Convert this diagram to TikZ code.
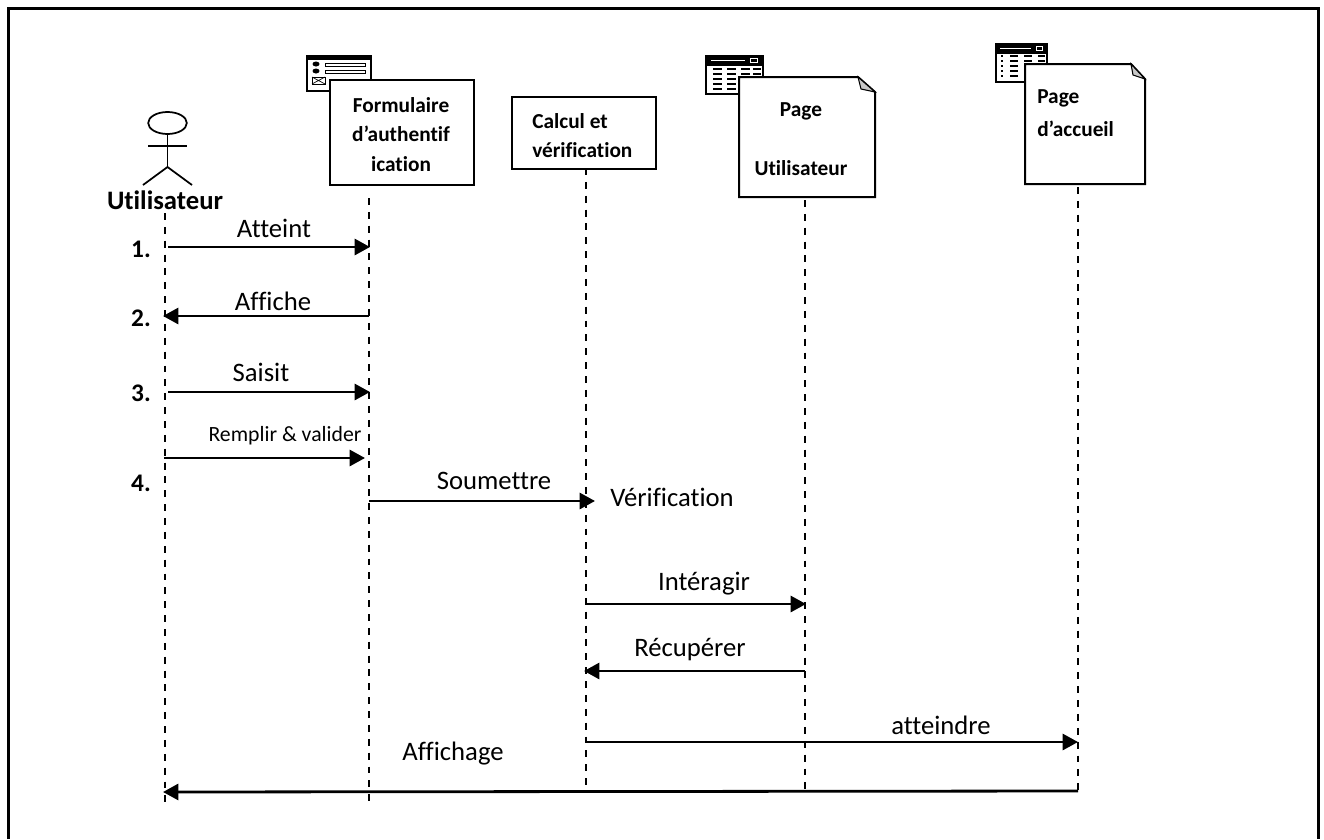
\documentclass[tikz,border=0pt]{standalone}
\usepackage{fontspec}
\setmainfont[Ligatures=NoCommon]{Carlito}
\usetikzlibrary{arrows.meta,shapes.geometric}
\tikzset{
  life/.style={draw=black,line width=1.4pt,dash pattern=on 5.2pt off 5.2pt},
  msg/.style={draw=black,line width=2.1pt,-{Triangle[length=11.5pt,width=12pt]}},
  lbl/.style={font=\fontsize{20}{24}\selectfont,inner sep=0pt,anchor=center},
  bld/.style={font=\bfseries\fontsize{16}{19}\selectfont,inner sep=0pt,anchor=center,align=center},
  num/.style={font=\bfseries\fontsize{19}{22}\selectfont,inner sep=0pt,anchor=center},
  box/.style={draw=black,line width=1.5pt,fill=white},
  lin/.style={draw=black,line width=1.3pt}
}
\begin{document}
\begin{tikzpicture}[x=0.75pt,y=-0.75pt]
\useasboundingbox (0,0) rectangle (1324,839);
\fill[white] (0,0) rectangle (1324,839);
\draw[black,line width=2.2pt] (8.5,839)--(8.5,8.5)--(1318.5,8.5)--(1318.5,839);

% lifeline ends
\coordinate (a0) at (165,213); \coordinate (a1) at (165,805);
\coordinate (f0) at (369,198); \coordinate (f1) at (369,805);
\coordinate (c0) at (586,168); \coordinate (c1) at (586,792);
\coordinate (u0) at (805,200); \coordinate (u1) at (805,792);
\coordinate (h0) at (1078,187); \coordinate (h1) at (1078,792);
\draw[life] (a0)--(a1);
\draw[life] (f0)--(f1);
\draw[life] (c0)--(c1);
\draw[life] (u0)--(u1);
\draw[life] (h0)--(h1);

% actor
\node[draw=black,line width=1.3pt,ellipse,minimum width=29pt,minimum height=16.5pt,inner sep=0pt] (head) at (167.5,123) {};
\coordinate (hip) at (167.5,167);
\coordinate (armL) at (148,146); \coordinate (armR) at (187,146);
\coordinate (legL) at (143,185); \coordinate (legR) at (192,185);
\draw[lin] (head.south)--(hip);
\draw[lin] (armL)--(armR);
\draw[lin] (legL)--(hip)--(legR);
\node[font=\bfseries\fontsize{20}{22}\selectfont,inner sep=0pt] (actor) at (165,200) {Utilisateur};

% form icon
\begin{scope}
\draw[box,line width=1.2pt] (307,56) rectangle (371,91);
\fill[black] (307,55) rectangle (371,60);
\fill[black] (316,64) ellipse (3.5 and 2.5);
\fill[black] (316,71) ellipse (3.5 and 2.5);
\draw[black,line width=.7pt] (325,63) rectangle (365,66);
\draw[black,line width=.7pt] (325,70) rectangle (365,73);
\draw[black,line width=.7pt] (312,77) rectangle (325,84);
\draw[black,line width=.5pt] (312,77)--(325,84) (312,84)--(325,77);
\end{scope}
\node[box,minimum width=108pt,minimum height=79pt,inner sep=0pt,anchor=north west] (form) at (329,79) {};
\node[bld] (formt1) at (401,105) {Formulaire};
\node[bld] (formt2) at (401,134) {d’authentif};
\node[bld] (formt3) at (401,164) {ication};

% calc
\node[box,minimum width=108pt,minimum height=54pt,anchor=north west] (calc) at (511,96) {};
\node[bld,anchor=west] (calct1) at (532,121) {Calcul et};
\node[bld,anchor=west] (calct2) at (532,150) {vérification};

% user page icon
\draw[box,line width=1.2pt] (706,56) rectangle (763,94);
\fill[black] (706,55) rectangle (763,66);
\draw[white,line width=.7pt] (711,60)--(745,60);
\draw[white,line width=.6pt] (750,58.5) rectangle (757,62);
\foreach \yy in {69,74,79,84,89}{
  \draw[black,line width=.9pt] (713,\yy)--(722,\yy) (727,\yy)--(736,\yy) (741,\yy)--(750,\yy) (753,\yy)--(761,\yy);
}
\draw[box,line join=miter] (739,77)--(858,77)--(875,92)--(875,197)--(739,197)--cycle;
\draw[black,line width=.8pt,fill=black!22] (858,77)--(875,92)--(861,89)--cycle;
\node[bld] (ut1) at (801,111) {Page};
\node[bld] (ut2) at (801,168) {Utilisateur};

% home page icon
\draw[box,line width=1.2pt] (996,44) rectangle (1047,82);
\fill[black] (996,43) rectangle (1047,54);
\draw[white,line width=.7pt] (1000,48)--(1031,48);
\draw[white,line width=.6pt] (1036,46.5) rectangle (1042,50);
\foreach \yy in {56,61,66,71,76}{
  \draw[black,line width=.9pt] (1001,\yy)--(1003,\yy) (1010,\yy)--(1018,\yy) (1024,\yy)--(1032,\yy) (1038,\yy)--(1045,\yy);
}
\draw[box,line join=miter] (1025,64)--(1131,64)--(1145,79)--(1145,184)--(1025,184)--cycle;
\draw[black,line width=.8pt,fill=black!22] (1131,64)--(1145,79)--(1133,75)--cycle;
\node[bld,anchor=west] (ha1) at (1037,98) {Page};
\node[bld,anchor=west] (ha2) at (1037,129) {d’accueil};

% messages
\coordinate (m1a) at (168,247); \coordinate (m1b) at (370,247);
\draw[msg] (m1a)--(m1b);
\node[lbl] (l1) at (274,228) {Atteint};
\coordinate (m2a) at (369,316); \coordinate (m2b) at (163,316);
\draw[msg] (m2a)--(m2b);
\node[lbl] (l2) at (273,301) {Affiche};
\coordinate (m3a) at (168,392); \coordinate (m3b) at (370,392);
\draw[msg] (m3a)--(m3b);
\node[lbl] (l3) at (261,372) {Saisit};
\coordinate (m4a) at (164,458); \coordinate (m4b) at (365,458);
\draw[msg] (m4a)--(m4b);
\node[font=\fontsize{16.3}{19}\selectfont,inner sep=0pt] (l4) at (285,436) {Remplir \& valider};
\coordinate (m5a) at (369,501); \coordinate (m5b) at (595,501);
\draw[msg] (m5a)--(m5b);
\node[lbl] (l5) at (494,481) {Soumettre};
\node[lbl] (l5b) at (672,497) {Vérification};
\coordinate (m6a) at (586,604); \coordinate (m6b) at (806,604);
\draw[msg] (m6a)--(m6b);
\node[lbl] (l6) at (704,584) {Intéragir};
\coordinate (m7a) at (805,671); \coordinate (m7b) at (584,671);
\draw[msg] (m7a)--(m7b);
\node[lbl] (l7) at (690,650) {Récupérer};
\coordinate (m8a) at (586,742); \coordinate (m8b) at (1078,742);
\draw[msg] (m8a)--(m8b);
\node[lbl] (l8) at (941,725) {atteindre};
\coordinate (m9a) at (1078,791); \coordinate (m9b) at (163,792);
\draw[msg] (m9a)--(m9b);
\node[lbl] (l9) at (453,754) {Affichage};

% numbers
\node[num] (n1) at (141,249) {1.};
\node[num] (n2) at (141,318) {2.};
\node[num] (n3) at (141,393) {3.};
\node[num] (n4) at (141,483) {4.};
\end{tikzpicture}
\end{document}
